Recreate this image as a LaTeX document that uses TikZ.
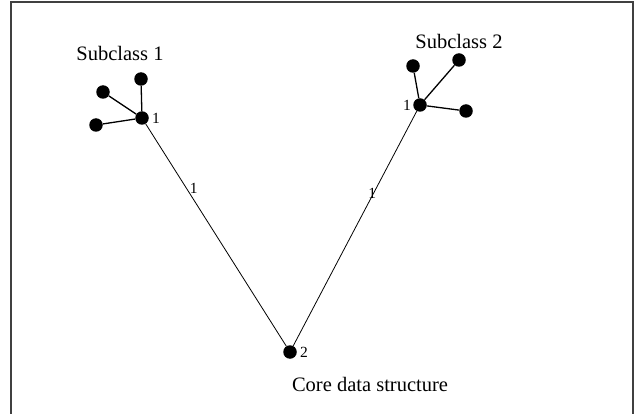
\documentclass[tikz,border=0pt]{standalone}
\usepackage{fontspec}
\setmainfont{Liberation Serif}
\usepackage{tikz}
\usetikzlibrary{positioning}

\begin{document}
\begin{tikzpicture}[x=1pt, y=-1pt,
  every node/.style={font=\fontsize{20.5}{24}\selectfont},
  dot/.style={circle, fill=black, draw=none, inner sep=0pt, minimum size=13.5pt},
  num/.style={font=\fontsize{15.5}{18}\selectfont, inner sep=1pt},
  leaf/.style={line width=1.3pt},
  link/.style={line width=0.8pt}]
  \useasboundingbox (0,0) rectangle (634,414);
  \draw[black!75, line width=1.5pt] (11,414) -- (11,2) -- (633,2) -- (633,414);
  % subclass 1
  \node[dot, label={[num, xshift=2pt]right:1}] (hubA) at (142,118) {};
  \node[dot] (a1) at (141,79) {};
  \node[dot] (a2) at (103,92) {};
  \node[dot] (a3) at (96,125) {};
  \node (subA) at (120,53) {Subclass 1};
  % subclass 2
  \node[dot, label={[num, xshift=-1pt]left:1}] (hubB) at (420,105) {};
  \node[dot] (b1) at (413,66) {};
  \node[dot] (b2) at (459,60) {};
  \node[dot] (b3) at (466,111) {};
  \node (subB) at (459,41) {Subclass 2};
  % core
  \node[dot, label={[num, xshift=2pt]right:2}] (core) at (290,352) {};
  \node (coreLbl) at (370,384) {Core data structure};
  \foreach \l in {a1,a2,a3} \draw[leaf] (hubA) -- (\l);
  \foreach \l in {b1,b2,b3} \draw[leaf] (hubB) -- (\l);
  \draw[link] (hubA) -- (core) node[num, pos=.29, right=2pt] {1};
  \draw[link] (hubB) -- (core) node[num, pos=.35, left=-4pt] {1};
\end{tikzpicture}
\end{document}
